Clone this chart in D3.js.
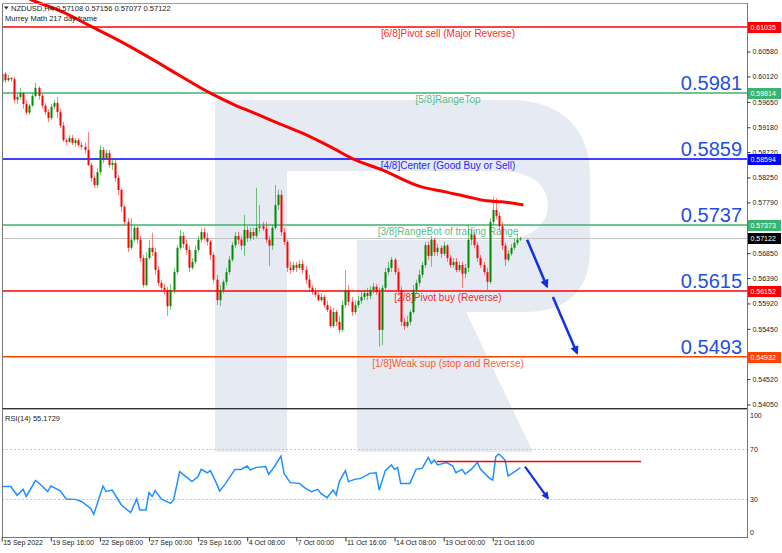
<!DOCTYPE html>
<html><head><meta charset="utf-8">
<script src="https://cdn.jsdelivr.net/npm/d3@7"></script>
<style>body{margin:0;background:#fff}svg{display:block}text{font-family:"Liberation Sans",Arial,sans-serif}</style>
</head><body><svg id="c" width="782" height="553"></svg>
<script>
// ---------- DATA ----------
const symbol = "NZDUSD,H4";
const indicatorName = "Murrey Math 217 day frame";
// [open, high, low, close] per H4 bar
const candles = [
[.6002,.6024,.5994,.6017],[.6017,.6020,.6000,.6005],[.6005,.6015,.6002,.6009],[.6009,.6011,.6002,.6007],
[.6007,.6011,.5963,.5969],[.5969,.5981,.5961,.5974],[.5974,.5991,.5969,.5981],[.5981,.5983,.5952,.5961],
[.5961,.5969,.5941,.5945],[.5945,.5961,.5941,.5958],[.5958,.5981,.5956,.5976],[.5976,.6000,.5974,.5991],
[.5991,.5994,.5969,.5976],[.5976,.5981,.5952,.5958],[.5958,.5963,.5941,.5946],[.5946,.5952,.5928,.5935],
[.5935,.5961,.5931,.5956],[.5956,.5969,.5952,.5963],[.5963,.5974,.5935,.5946],[.5946,.5952,.5917,.5921],
[.5921,.5928,.5891,.5894],[.5894,.5898,.5885,.5891],[.5891,.5904,.5889,.5898],[.5898,.5904,.5885,.5889],
[.5889,.5898,.5882,.5894],[.5894,.5898,.5882,.5885],[.5885,.5891,.5876,.5882],[.5882,.5889,.5870,.5876],
[.5876,.5909,.5846,.5848],[.5848,.5852,.5817,.5824],[.5824,.5830,.5806,.5811],[.5811,.5843,.5806,.5835],
[.5835,.5885,.5830,.5876],[.5876,.5882,.5852,.5861],[.5861,.5876,.5858,.5870],[.5870,.5876,.5843,.5848],
[.5848,.5861,.5839,.5852],[.5852,.5858,.5817,.5824],[.5824,.5830,.5793,.5802],[.5802,.5806,.5761,.5771],
[.5771,.5774,.5737,.5743],[.5743,.5750,.5687,.5695],[.5695,.5750,.5691,.5710],[.5710,.5737,.5706,.5732],
[.5732,.5735,.5702,.5710],[.5710,.5717,.5669,.5676],[.5676,.5682,.5621,.5626],[.5626,.5687,.5623,.5676],
[.5676,.5710,.5673,.5695],[.5695,.5723,.5680,.5687],[.5687,.5695,.5645,.5654],[.5654,.5661,.5624,.5630],
[.5630,.5636,.5613,.5621],[.5621,.5628,.5608,.5617],[.5617,.5623,.5569,.5587],[.5587,.5628,.5580,.5617],
[.5617,.5658,.5611,.5650],[.5650,.5700,.5645,.5695],[.5695,.5728,.5691,.5717],[.5717,.5724,.5695,.5702],
[.5702,.5710,.5682,.5691],[.5691,.5699,.5650,.5658],[.5658,.5676,.5654,.5669],[.5669,.5699,.5665,.5691],
[.5691,.5717,.5687,.5710],[.5710,.5732,.5704,.5724],[.5724,.5732,.5708,.5713],[.5713,.5723,.5699,.5706],
[.5706,.5710,.5673,.5682],[.5682,.5687,.5630,.5636],[.5636,.5645,.5589,.5598],[.5598,.5626,.5587,.5617],
[.5617,.5636,.5611,.5632],[.5632,.5658,.5626,.5650],[.5650,.5680,.5645,.5673],[.5673,.5706,.5669,.5700],
[.5700,.5724,.5695,.5717],[.5717,.5724,.5702,.5710],[.5710,.5717,.5691,.5699],[.5699,.5756,.5680,.5728],
[.5728,.5735,.5706,.5713],[.5713,.5732,.5708,.5724],[.5724,.5732,.5710,.5717],[.5717,.5806,.5713,.5732],
[.5732,.5774,.5723,.5735],[.5735,.5743,.5726,.5730],[.5730,.5743,.5704,.5710],[.5710,.5717,.5661,.5699],
[.5699,.5737,.5691,.5732],[.5732,.5811,.5728,.5774],[.5774,.5802,.5765,.5793],[.5793,.5802,.5717,.5724],
[.5724,.5732,.5700,.5706],[.5706,.5710,.5650,.5658],[.5658,.5669,.5647,.5654],[.5654,.5669,.5650,.5663],
[.5663,.5669,.5650,.5658],[.5658,.5673,.5654,.5665],[.5665,.5673,.5647,.5654],[.5654,.5661,.5628,.5636],
[.5636,.5645,.5613,.5621],[.5621,.5626,.5608,.5613],[.5613,.5621,.5604,.5608],[.5608,.5613,.5595,.5598],
[.5598,.5611,.5595,.5604],[.5604,.5608,.5584,.5589],[.5589,.5597,.5576,.5580],[.5580,.5587,.5547,.5550],
[.5550,.5584,.5547,.5576],[.5576,.5580,.5550,.5558],[.5558,.5569,.5537,.5543],[.5543,.5597,.5539,.5589],
[.5589,.5654,.5584,.5617],[.5617,.5626,.5587,.5595],[.5595,.5604,.5569,.5576],[.5576,.5598,.5571,.5589],
[.5589,.5606,.5584,.5597],[.5597,.5613,.5591,.5604],[.5604,.5617,.5598,.5611],[.5611,.5621,.5598,.5606],
[.5606,.5624,.5600,.5617],[.5617,.5630,.5611,.5623],[.5623,.5628,.5608,.5613],[.5613,.5621,.5512,.5543],
[.5543,.5626,.5515,.5621],[.5621,.5658,.5617,.5650],[.5650,.5669,.5645,.5658],[.5658,.5678,.5650,.5673],
[.5673,.5676,.5645,.5650],[.5650,.5658,.5611,.5617],[.5617,.5623,.5550,.5558],[.5558,.5565,.5543,.5550],
[.5550,.5569,.5547,.5558],[.5558,.5580,.5552,.5576],[.5576,.5626,.5573,.5617],[.5617,.5636,.5611,.5630],
[.5630,.5654,.5624,.5645],[.5645,.5669,.5639,.5663],[.5663,.5706,.5658,.5700],[.5700,.5706,.5673,.5680],
[.5680,.5717,.5660,.5710],[.5710,.5713,.5680,.5687],[.5687,.5702,.5680,.5695],[.5695,.5700,.5676,.5684],
[.5684,.5706,.5680,.5699],[.5699,.5702,.5669,.5676],[.5676,.5682,.5658,.5663],[.5663,.5676,.5658,.5669],
[.5669,.5676,.5650,.5654],[.5654,.5669,.5650,.5663],[.5663,.5669,.5621,.5647],[.5647,.5665,.5639,.5658],
[.5658,.5737,.5650,.5710],[.5710,.5728,.5700,.5719],[.5719,.5724,.5695,.5700],[.5700,.5706,.5669,.5676],
[.5676,.5682,.5658,.5663],[.5663,.5669,.5645,.5650],[.5650,.5658,.5617,.5632],[.5632,.5750,.5628,.5743],
[.5743,.5789,.5737,.5765],[.5765,.5787,.5747,.5754],[.5754,.5761,.5728,.5735],[.5735,.5743,.5691,.5699],
[.5699,.5704,.5661,.5673],[.5673,.5691,.5669,.5684],[.5684,.5702,.5680,.5695],[.5695,.5713,.5691,.5704],
[.5704,.5721,.5700,.5710],[.57108,.57156,.57077,.57122]
];
// moving average readings: [bar index, price]
const maPoints = [[0,.6178],[10,.6153],[20,.6131],[29,.6105],[39,.6076],[49,.6044],[57,.6017],[68,.5981],
[76,.5959],[82,.5945],[89,.5928],[98,.5907],[107,.5882],[115,.5858],[124,.5839],[136,.5809],[145,.5798],
[152,.5789],[158,.5782],[163,.5780],[170,.5774]];
// RSI(14) readings: [bar index, value]
const rsiPoints = [[0,40],[3,40],[5,33],[7,37.7],[8,32],[11,44.7],[12,43],[15,36],[16,40.4],[19,36.7],[21,30],
[24,29.7],[26,28],[29,22.5],[30,17.7],[31,25.2],[33,40.4],[34,36],[36,37.2],[38,29.2],[39,25.2],[42,19.1],
[44,30],[45,21.2],[47,21.2],[48,35.1],[49,32],[50,36.7],[52,30],[55,26.5],[56,29.2],[58,51.9],[60,47.9],
[62,43.9],[64,47.9],[65,53.7],[67,51],[68,52.7],[70,42.5],[71,36.4],[73,42.5],[76,53.7],[78,53.7],[80,56.4],
[81,53.2],[83,55.3],[86,55.9],[87,49.7],[89,56.4],[91,64.4],[92,50.5],[94,43.1],[97,42.5],[99,38.5],
[101,35.9],[103,37.7],[104,34.5],[106,31.1],[108,37.2],[109,33.2],[110,43.9],[112,52.7],[113,43.9],
[115,45.7],[117,46.5],[120,50.5],[122,51],[123,37.2],[125,52.7],[127,57.2],[128,53.7],[129,55.3],[130,42.5],
[133,42.5],[135,53.7],[137,54.5],[139,63.3],[140,58.5],[141,61.2],[142,57.2],[145,59.1],[147,56.4],[148,51],
[150,53.7],[151,50],[153,53.7],[155,59.3],[156,53.7],[159,46.5],[160,45.2],[161,63.9],[162,66],[164,61.2],
[165,48.4],[168,53.2],[169,55.1729]];
const rsiLast = 55.1729;
const levelValues = [0.61035, 0.59814, 0.58594, 0.57373, 0.56152, 0.54932];
const levelNames = ["[6/8]Pivot sell (Major Reverse)","[5/8]RangeTop","[4/8]Center (Good Buy or Sell)",
  "[3/8]RangeBot of trading Range","[2/8]Pivot buy (Reverse)","[1/8]Weak sup (stop and Reverse)"];
const levelBigLabels = ["", "0.5981", "0.5859", "0.5737", "0.5615", "0.5493"];
const priceTicks = [0.60580,0.60120,0.59650,0.59180,0.58720,0.58250,0.57790,0.57320,0.56850,0.56390,0.55920,0.55450,0.54520,0.54050];
const rsiTicks = [100, 70, 30, 0];
const rsiLevels = [70, 30];
const dateLabels = ["15 Sep 2022","19 Sep 16:00","22 Sep 08:00","27 Sep 00:00","29 Sep 16:00","4 Oct 08:00",
  "7 Oct 00:00","11 Oct 16:00","14 Oct 08:00","19 Oct 00:00","21 Oct 16:00"];
const dateBarStep = 16;
// analyst annotations (bar index, price / rsi)
const priceArrows = [[[171.2,0.5710],[177.7,0.5623]], [[179.6,0.5604],[187.5,0.5500]]];
const rsiArrow = [[170.5,55.9],[178,30.5]];
const rsiResistance = [[141.8,60],[208.3,60]];

// ---------- STYLE ----------
const levelColors = ["#ff0000","#3cb371","#0000ff","#3cb371","#ff0000","#ff4500"];
const bull = "#008a00", bear = "#ff0000";
const L = 2, R = 747, mainTop = 3, mainBot = 408, rsiTop = 410, rsiBot = 537;

const svg = d3.select("#c");
const x = d3.scaleLinear().domain([0, 242]).range([1.7, 1.7 + 3.069 * 242]);
const y = d3.scaleLinear().domain([0.54050, 0.61035]).range([404.5, 27]);
const ry = d3.scaleLinear().domain([0, 100]).range([536.5, 411.5]);

const defs = svg.append("defs");
defs.append("clipPath").attr("id","cm").append("rect").attr("x",L).attr("y",0).attr("width",R-L).attr("height",mainBot);
defs.append("clipPath").attr("id","cr").append("rect").attr("x",L).attr("y",rsiTop).attr("width",R-L).attr("height",rsiBot-rsiTop);
const mk = defs.append("marker").attr("id","ah").attr("viewBox","0 0 10 10").attr("refX",8).attr("refY",5)
  .attr("markerWidth",4).attr("markerHeight",3.4).attr("orient","auto").attr("markerUnits","strokeWidth");
mk.append("path").attr("d","M0,0 L10,5 L0,10 Z").attr("fill","#1030e8");

// watermark logo
svg.append("path")
  .attr("d","M215,100 H510 C560,100 590,128 590,175 V250 C590,292 565,312 525,312 H466 L533,452 H357 V240 H500 C530,240 548,225 548,205 C548,185 530,171 500,171 H287 V452 H215 Z")
  .attr("fill","#e5eaf3");

const gm = svg.append("g").attr("clip-path","url(#cm)");
// current price line
const lastC = candles[candles.length-1];
gm.append("line").attr("x1",L).attr("x2",R).attr("y1",Math.round(y(lastC[3]))+0.5).attr("y2",Math.round(y(lastC[3]))+0.5)
  .attr("stroke","#c4c4c4").attr("stroke-width",1);
// levels
levelValues.forEach((v,i)=>{
  gm.append("line").attr("x1",L).attr("x2",R).attr("y1",y(v)).attr("y2",y(v))
    .attr("stroke",levelColors[i]).attr("stroke-width",1.5);
  gm.append("text").attr("x",448).attr("y",y(v)+10).attr("text-anchor","middle")
    .attr("font-size","10px").attr("fill",levelColors[i]).attr("opacity",0.85).text(levelNames[i]);
});
// candles
candles.forEach((d,i)=>{
  const [o,h,l,c] = d; const col = c >= o ? bull : bear;
  const cx = Math.round(x(i));
  gm.append("line").attr("x1",cx+0.5).attr("x2",cx+0.5).attr("y1",y(h)).attr("y2",y(l))
    .attr("stroke",col).attr("stroke-opacity",0.5).attr("stroke-width",1);
  const top = y(Math.max(o,c)), hh = Math.max(1, Math.abs(y(o)-y(c)));
  gm.append("rect").attr("x",cx-0.5).attr("y",top).attr("width",2).attr("height",hh).attr("fill",col);
});
// moving average
gm.append("path").datum(maPoints)
  .attr("d", d3.line().x(d=>x(d[0])).y(d=>y(d[1])).curve(d3.curveMonotoneX))
  .attr("fill","none").attr("stroke","#ff0000").attr("stroke-width",3);
// big level labels
levelValues.forEach((v,i)=>{
  if(!levelBigLabels[i]) return;
  svg.append("text").attr("x",742).attr("y",y(v)-3).attr("text-anchor","end")
    .attr("font-size","20px").attr("fill","#1f4fe0").text(levelBigLabels[i]);
});
// arrows
priceArrows.forEach(a=>{
  svg.append("line").attr("x1",x(a[0][0])).attr("y1",y(a[0][1])).attr("x2",x(a[1][0])).attr("y2",y(a[1][1]))
    .attr("stroke","#1030e8").attr("stroke-width",2.5).attr("marker-end","url(#ah)");
});

// RSI panel
const gr = svg.append("g").attr("clip-path","url(#cr)");
rsiLevels.forEach(v=>{
  gr.append("line").attr("x1",L).attr("x2",R).attr("y1",Math.round(ry(v))+0.5).attr("y2",Math.round(ry(v))+0.5)
    .attr("stroke","#c8c8c8").attr("stroke-dasharray","2,2");
});
gr.append("path").datum(rsiPoints)
  .attr("d", d3.line().x(d=>x(d[0])).y(d=>ry(d[1])))
  .attr("fill","none").attr("stroke","#1e90ff").attr("stroke-width",1.5);
gr.append("line").attr("x1",x(rsiResistance[0][0])).attr("x2",x(rsiResistance[1][0]))
  .attr("y1",ry(rsiResistance[0][1])).attr("y2",ry(rsiResistance[1][1])).attr("stroke","#ff0000").attr("stroke-width",1.5);
svg.append("line").attr("x1",x(rsiArrow[0][0])).attr("y1",ry(rsiArrow[0][1])).attr("x2",x(rsiArrow[1][0])).attr("y2",ry(rsiArrow[1][1]))
  .attr("stroke","#1030e8").attr("stroke-width",2.2).attr("marker-end","url(#ah)");
svg.append("text").attr("x",5).attr("y",421).attr("font-size","7.5px").attr("fill","#222")
  .text("RSI(14) " + rsiLast.toFixed(4));

// frames
const fr = svg.append("g").attr("fill","none");
fr.append("line").attr("x1",L+0.5).attr("x2",L+0.5).attr("y1",mainTop).attr("y2",rsiBot+1).attr("stroke","#777");
fr.append("line").attr("x1",L).attr("x2",R).attr("y1",mainTop+0.5).attr("y2",mainTop+0.5).attr("stroke","#999");
fr.append("line").attr("x1",R+0.5).attr("x2",R+0.5).attr("y1",mainTop).attr("y2",rsiBot+1).attr("stroke","#777");
fr.append("line").attr("x1",L).attr("x2",R).attr("y1",mainBot+0.5).attr("y2",mainBot+0.5).attr("stroke","#333");
fr.append("line").attr("x1",L).attr("x2",R).attr("y1",mainBot+1.5).attr("y2",mainBot+1.5).attr("stroke","#aaa");
fr.append("line").attr("x1",L).attr("x2",R+1).attr("y1",rsiBot+0.5).attr("y2",rsiBot+0.5).attr("stroke","#777");

// price axis
const ax = svg.append("g").attr("transform",`translate(${R+0.5},0)`)
  .call(d3.axisRight(y).tickValues(priceTicks).tickSize(3).tickPadding(2).tickFormat(d3.format(".5f")));
ax.select(".domain").remove();
ax.selectAll("line").attr("stroke","#333");
ax.selectAll("text").attr("font-size","7px").attr("fill","#222").attr("font-family","Liberation Sans, Arial");
// price tags
const tags = levelValues.map((v,i)=>({v, col: levelColors[i]})).concat([{v:lastC[3], col:"#000"}]);
tags.forEach(t=>{
  svg.append("rect").attr("x",R+1).attr("y",Math.round(y(t.v))-5).attr("width",33).attr("height",11).attr("fill",t.col);
  svg.append("text").attr("x",R+3.5).attr("y",Math.round(y(t.v))+3).attr("font-size","7px").attr("fill","#fff").text(t.v.toFixed(5));
});
// RSI axis labels
rsiTicks.forEach(v=>{
  const yy = ry(v) + (v===100 ? 6 : v===0 ? -2 : 2.5);
  svg.append("text").attr("x",R+3).attr("y",yy).attr("font-size","7px").attr("fill","#222").text(v);
});
// time axis
const tx = svg.append("g").attr("transform",`translate(0,${rsiBot+0.5})`)
  .call(d3.axisBottom(x).tickValues(dateLabels.map((d,i)=>i*dateBarStep)).tickSize(4).tickFormat((d,i)=>dateLabels[i]));
tx.select(".domain").remove();
tx.selectAll("line").attr("stroke","#333");
tx.selectAll("text").attr("text-anchor","start").attr("dx","1px").attr("dy","0.1em")
  .attr("font-size","7px").attr("fill","#222").attr("font-family","Liberation Sans, Arial");

// header
svg.append("path").attr("d","M4,6.5 L8.5,6.5 L6.25,9.5 Z").attr("fill","#222");
svg.append("text").attr("x",11).attr("y",11).attr("font-size","7.5px").attr("fill","#222")
  .text(symbol + "  " + lastC.map(v=>v.toFixed(5)).join(" "));
svg.append("text").attr("x",5).attr("y",20.5).attr("font-size","7.5px").attr("fill","#222").text(indicatorName);
</script></body></html>
